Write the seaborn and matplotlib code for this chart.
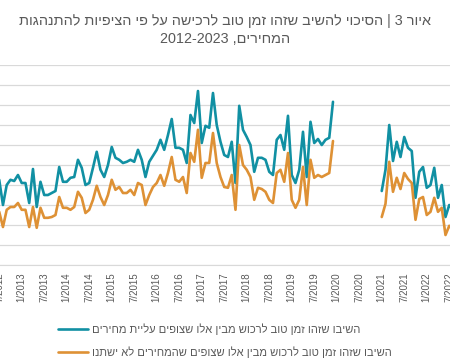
import pandas as pd
import numpy as np
import seaborn as sns
import matplotlib.pyplot as plt

# titles and legend labels (logical order, right-to-left text)
title_line1 = "איור 3 | הסיכוי להשיב שזהו זמן טוב לרכישה על פי הציפיות להתנהגות"
title_line2 = "המחירים, 2012-2023"
label_up = "השיבו שזהו זמן טוב לרכוש מבין אלו שצופים עליית מחירים"
label_same = "השיבו שזהו זמן טוב לרכוש מבין אלו שצופים שהמחירים לא ישתנו"

# monthly series, 7/2012 - 12/2019
start_a = "2012-07"
up_a = [21.3, 15.0, 20.0, 21.3, 21.0, 22.5, 20.5, 20.5, 15.5, 24.0,
        14.5, 20.8, 17.5, 17.5, 18.0, 18.5, 24.5, 20.8, 20.8, 21.8,
        22.0, 26.3, 24.3, 20.0, 20.5, 24.3, 28.3, 23.8, 22.0, 25.0,
        29.5, 26.8, 26.3, 25.5, 25.8, 26.3, 25.8, 28.8, 26.3, 22.0,
        25.8, 27.3, 28.8, 31.3, 28.8, 32.5, 36.5, 29.3, 29.3, 28.8,
        25.5, 37.5, 35.5, 43.5, 30.5, 34.8, 34.3, 43.0, 35.0, 30.8,
        27.5, 27.0, 30.8, 20.5, 39.8, 33.8, 32.0, 30.0, 23.3, 26.8,
        26.8, 26.3, 23.3, 22.5, 31.3, 32.5, 28.8, 37.3, 22.5, 20.5,
        23.8, 33.3, 22.0, 35.8, 30.5, 31.5, 30.0, 31.3, 31.8, 40.8]
same_a = [13.3, 9.5, 13.8, 14.5, 14.5, 15.5, 13.8, 13.8, 9.5, 14.5,
          9.3, 14.3, 11.8, 11.8, 12.0, 12.5, 17.0, 14.3, 14.3, 13.8,
          14.5, 18.3, 16.8, 13.0, 13.8, 16.3, 19.8, 17.0, 15.0, 17.5,
          21.3, 18.8, 19.5, 18.0, 18.0, 18.8, 17.5, 20.5, 20.0, 15.0,
          17.5, 19.5, 20.5, 22.5, 19.8, 23.0, 27.0, 21.3, 20.8, 22.0,
          18.0, 28.0, 25.8, 33.8, 21.8, 25.5, 25.5, 33.0, 25.5, 22.0,
          19.5, 19.3, 22.5, 13.8, 30.0, 25.0, 23.8, 22.0, 16.3, 19.3,
          19.0, 18.3, 16.3, 15.5, 23.0, 23.8, 20.8, 28.0, 16.3, 14.3,
          16.3, 24.5, 15.0, 26.3, 21.8, 22.5, 22.0, 22.5, 23.0, 31.0]

# monthly series, 1/2021 onward
start_b = "2021-01"
up_b = [18.5, 23.8, 35.0, 26.0, 30.8, 27.0, 32.0, 29.3, 28.5, 16.8,
        23.3, 24.5, 19.3, 20.0, 24.3, 16.8, 20.0, 12.0, 15.0, 13.8]
same_b = [12.0, 15.3, 25.8, 18.3, 21.8, 19.0, 23.0, 21.5, 20.5, 11.3,
          16.5, 17.0, 12.5, 13.3, 16.8, 13.3, 14.3, 7.5, 9.8, 8.8]

colors = ["#1190A3", "#DE9135"]
text_color = "#595959"


def visual(s):
    # crude bidi: reverse word order, reverse letters of hebrew words
    out = []
    for w in s.split(" ")[::-1]:
        if any("\u0590" <= c <= "\u05ff" for c in w):
            w = w[::-1]
        out.append(w)
    return " ".join(out)


origin = pd.Period("2012-07", freq="M")
rows = []
for seg, start, up, same in [("a", start_a, up_a, same_a), ("b", start_b, up_b, same_b)]:
    p0 = pd.Period(start, freq="M")
    for i, (u, s) in enumerate(zip(up, same)):
        m = (p0 + i - origin).n
        rows.append((m, u, visual(label_up), seg))
        rows.append((m, s, visual(label_same), seg))
df = pd.DataFrame(rows, columns=["month", "value", "series", "segment"])

sns.set_style("white")
plt.rcParams["font.family"] = ["Liberation Sans", "DejaVu Sans"]

fig = plt.figure(figsize=(4.5, 3.6), dpi=100)
ax = fig.add_axes([-0.02, 95 / 360, 1.04, 200 / 360])

sns.lineplot(data=df, x="month", y="value", hue="series", units="segment",
             estimator=None, palette=colors, linewidth=1.9, ax=ax, legend=True)

ax.set_xlim(-2.19, 122.6)
ax.set_ylim(0, 50)
ax.set_yticks(np.arange(0, 51, 5))
ax.yaxis.grid(True, color="#D9D9D9", linewidth=0.9)
ax.set_axisbelow(True)
ax.tick_params(axis="y", left=False, labelleft=False)

ticks = list(range(0, 121, 6))
labels = [f"{(origin + t).month}/{(origin + t).year}" for t in ticks]
ax.set_xticks(ticks)
ax.set_xticklabels(labels, rotation=90, fontsize=7, color=text_color)
ax.tick_params(axis="x", length=3, color="#D9D9D9", pad=2)
for side in ["left", "right", "top"]:
    ax.spines[side].set_visible(False)
ax.spines["bottom"].set_color("#D9D9D9")
ax.set_xlabel("")
ax.set_ylabel("")

handles, lbls = ax.get_legend_handles_labels()
ax.get_legend().remove()
fig.legend(handles, lbls, loc="center", bbox_to_anchor=(0.5, 1 - 340.5 / 360),
           frameon=False, fontsize=8, labelcolor=text_color, handlelength=2.7,
           handletextpad=0.3, labelspacing=1.0)

fig.text(0.5, 1 - 21 / 360, visual(title_line1), ha="center", va="center",
         fontsize=10.4, color=text_color)
fig.text(0.5, 1 - 39 / 360, visual(title_line2), ha="center", va="center",
         fontsize=10.4, color=text_color)

fig.savefig("out.png", dpi=100)
